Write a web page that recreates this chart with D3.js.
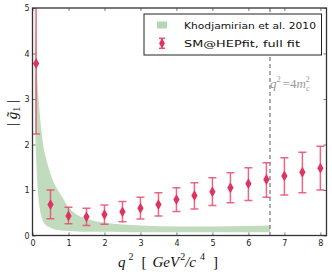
<!DOCTYPE html>
<html><head><meta charset="utf-8">
<script src="https://cdn.jsdelivr.net/npm/d3@7"></script>
<style>body{margin:0;background:#fff}svg{display:block}</style>
</head><body>
<svg id="c" width="332" height="275"></svg>
<script>
// data
const fitQ2 = [0.1,0.5,1,1.5,2,2.5,3,3.5,4,4.5,5,5.5,6,6.5,7,7.5,8];
const fitVal = [3.78,0.68,0.43,0.41,0.46,0.52,0.60,0.68,0.79,0.88,0.96,1.05,1.14,1.23,1.31,1.39,1.48];
const fitLo  = [2.23,0.37,0.26,0.22,0.25,0.30,0.36,0.43,0.53,0.58,0.66,0.72,0.77,0.84,0.89,0.94,1.00];
const fitHi  = [6.50,1.00,0.62,0.60,0.67,0.75,0.84,0.94,1.05,1.16,1.27,1.38,1.49,1.60,1.71,1.83,1.96];
const bandQ2 = [0.06,0.07,0.08,0.1,0.13,0.17,0.2,0.25,0.3,0.35,0.4,0.5,0.6,0.7,0.8,1.0,1.25,1.5,2,2.5,3,4,5,6,6.6];
const bandHi = [6.0,5.0,4.6,4.1,3.5,3.0,2.7,2.3,1.98,1.78,1.62,1.35,1.15,1.0,0.88,0.62,0.45,0.37,0.28,0.24,0.22,0.20,0.20,0.21,0.22];
const bandLo = [3.8,2.6,2.2,1.75,1.2,0.78,0.6,0.41,0.30,0.24,0.21,0.17,0.14,0.12,0.11,0.10,0.09,0.085,0.08,0.075,0.07,0.07,0.07,0.07,0.07];
const xTicks = [0,1,2,3,4,5,6,7,8];
const yTicks = [0,1,2,3,4,5];
const q2cc = 6.6;

const svg = d3.select('#c');
const L=32.5,R=326.5,T=8,B=235.5;
const x = d3.scaleLinear().domain([0,8.17]).range([L,R]);
const y = d3.scaleLinear().domain([0,5]).range([B,T]);

svg.append('defs').append('clipPath').attr('id','clip')
  .append('rect').attr('x',L).attr('y',T).attr('width',R-L).attr('height',B-T);
const g = svg.append('g').attr('clip-path','url(#clip)');

// band
const band = bandQ2.map((q,i)=>({q,lo:bandLo[i],hi:bandHi[i]}));
g.append('path').datum(band)
  .attr('d', d3.area().x(d=>x(d.q)).y0(d=>y(d.lo)).y1(d=>y(d.hi)).curve(d3.curveMonotoneX))
  .attr('fill','#b5d6b2').attr('fill-opacity',0.85);

// dashed line
g.append('line').attr('x1',x(q2cc)).attr('x2',x(q2cc)).attr('y1',T).attr('y2',B)
  .attr('stroke','#777').attr('stroke-width',1.2).attr('stroke-dasharray','4,3');

// error bars
const pts = fitQ2.map((q,i)=>({q,v:fitVal[i],lo:fitLo[i],hi:fitHi[i]}));
const eb = g.append('g').attr('stroke','#e64d72').attr('stroke-opacity',0.85).attr('stroke-width',1.5);
pts.forEach(d=>{
  eb.append('line').attr('x1',x(d.q)).attr('x2',x(d.q)).attr('y1',y(d.lo)).attr('y2',y(d.hi));
  eb.append('line').attr('x1',x(d.q)-4).attr('x2',x(d.q)+4).attr('y1',y(d.lo)).attr('y2',y(d.lo));
  eb.append('line').attr('x1',x(d.q)-4).attr('x2',x(d.q)+4).attr('y1',y(d.hi)).attr('y2',y(d.hi));
});
const diamond = d3.symbol().type(d3.symbolDiamond).size(34);
g.selectAll('path.m').data(pts).enter().append('path')
  .attr('transform',d=>`translate(${x(d.q)},${y(d.v)})`).attr('d',diamond)
  .attr('fill','#dd3460');

// axes (inward ticks)
const tickCol='#555';
const ax = svg.append('g').attr('transform',`translate(0,${B})`).call(d3.axisBottom(x).tickValues(xTicks).tickSize(-3).tickPadding(5).tickFormat(d3.format('d')));
const axT = svg.append('g').attr('transform',`translate(0,${T})`).call(d3.axisTop(x).tickValues(xTicks).tickSize(-3).tickFormat(''));
const ay = svg.append('g').attr('transform',`translate(${L},0)`).call(d3.axisLeft(y).tickValues(yTicks).tickSize(-3).tickPadding(3).tickFormat(d3.format('d')));
const ayR = svg.append('g').attr('transform',`translate(${R},0)`).call(d3.axisRight(y).tickValues(yTicks).tickSize(-3).tickFormat(''));
[ax,axT,ay,ayR].forEach(a=>{
  a.select('.domain').remove();
  a.selectAll('.tick line').attr('stroke',tickCol).attr('stroke-width',0.8);
  a.selectAll('text').attr('font-family','DejaVu Sans').attr('font-size',8).attr('fill','#222');
});
// frame
svg.append('rect').attr('x',L).attr('y',T).attr('width',R-L).attr('height',B-T)
  .attr('fill','none').attr('stroke','#333').attr('stroke-width',1.3);

// q2 = 4mc2 label
const lab = svg.append('text').attr('x',270).attr('y',88).attr('fill','#999')
  .attr('font-family','Liberation Serif').attr('font-size',13);
lab.append('tspan').attr('font-style','italic').text('q');
lab.append('tspan').attr('font-size',8.5).attr('dy',-6).text('2');
lab.append('tspan').attr('dy',6).attr('dx',2).text('=4');
lab.append('tspan').attr('font-style','italic').text('m');
lab.append('tspan').attr('font-size',8).attr('font-style','italic').attr('dy',3).text('c');
lab.append('tspan').attr('font-size',8.5).attr('dy',-9).attr('dx',-4).text('2');

// legend
const lg = svg.append('g');
lg.append('rect').attr('x',144).attr('y',14).attr('width',177.5).attr('height',41)
  .attr('fill','#fff').attr('stroke','#222').attr('stroke-width',1);
lg.append('rect').attr('x',157).attr('y',21.5).attr('width',10).attr('height',7).attr('fill','#b5d6b2');
const lx=162, ly=43.3;
lg.append('line').attr('x1',lx).attr('x2',lx).attr('y1',ly-5).attr('y2',ly+5).attr('stroke','#e64d72').attr('stroke-width',1.5);
lg.append('line').attr('x1',lx-3).attr('x2',lx+3).attr('y1',ly-5).attr('y2',ly-5).attr('stroke','#e64d72').attr('stroke-width',1.5);
lg.append('line').attr('x1',lx-3).attr('x2',lx+3).attr('y1',ly+5).attr('y2',ly+5).attr('stroke','#e64d72').attr('stroke-width',1.5);
lg.append('path').attr('transform',`translate(${lx},${ly})`).attr('d',d3.symbol().type(d3.symbolDiamond).size(30)).attr('fill','#dd3460');
lg.append('text').attr('x',184).attr('y',28.5).attr('font-family','DejaVu Sans').attr('font-size',9.5)
  .attr('textLength',132).attr('lengthAdjust','spacingAndGlyphs').attr('fill','#111').text('Khodjamirian et al. 2010');
lg.append('text').attr('x',184).attr('y',47).attr('font-family','DejaVu Sans').attr('font-size',9.5)
  .attr('textLength',116).attr('lengthAdjust','spacingAndGlyphs').attr('fill','#111').text('SM@HEPfit, full fit');

// x label
const xl = svg.append('text').attr('x',118).attr('y',267).attr('font-family','Liberation Serif').attr('font-size',15).attr('fill','#111');
xl.append('tspan').attr('font-style','italic').text('q');
xl.append('tspan').attr('font-size',10).attr('dy',-7).attr('dx',3).text('2');
xl.append('tspan').attr('dy',7).attr('dx',8).text('[');
xl.append('tspan').attr('font-style','italic').attr('dx',6).text('GeV');
xl.append('tspan').attr('font-size',10).attr('dy',-7).attr('dx',1).text('2');
xl.append('tspan').attr('dy',7).attr('font-style','italic').text('/c');
xl.append('tspan').attr('font-size',10).attr('dy',-7).attr('dx',4).text('4');
xl.append('tspan').attr('dy',7).attr('dx',8).text(']');

// y label
const yl = svg.append('text').attr('transform','translate(17,113) rotate(-90)').attr('text-anchor','middle')
  .attr('font-family','Liberation Serif').attr('font-size',15).attr('fill','#111');
yl.append('tspan').text('| ');
yl.append('tspan').attr('font-style','italic').text('g\u0303');
yl.append('tspan').attr('font-size',10).attr('dy',3).text('1');
yl.append('tspan').attr('dy',-3).text(' |');
</script>
</body></html>
